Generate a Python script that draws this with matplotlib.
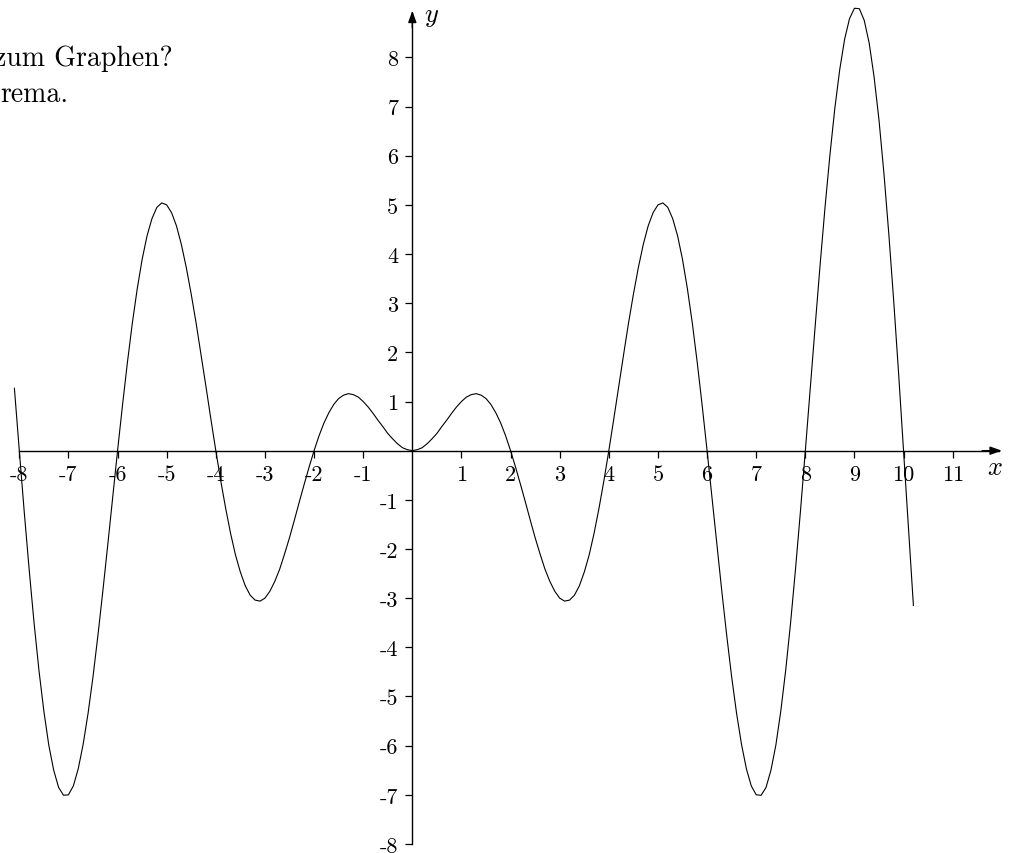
import numpy as np
import matplotlib
matplotlib.use("Agg")
import matplotlib.pyplot as plt

plt.rcParams['font.family'] = 'serif'
plt.rcParams['font.serif'] = ['cmr10']
plt.rcParams['mathtext.fontset'] = 'cm'
plt.rcParams['axes.unicode_minus'] = False
plt.rcParams['axes.formatter.use_mathtext'] = True

x_vals = np.round(np.linspace(-8.1, 10.2, 184), 1)
y_vals = [
    1.27, 0, -1.24, -2.41, -3.50, -4.47, -5.30, -5.99, -6.50, -6.85,
    -7.01, -7.00, -6.82, -6.47, -5.97, -5.34, -4.60, -3.76, -2.86, -1.92,
    -0.95, 0, 0.92, 1.79, 2.59, 3.29, 3.89, 4.37, 4.72, 4.95,
    5.04, 5.00, 4.84, 4.57, 4.19, 3.72, 3.18, 2.59, 1.95, 1.30,
    0.64, 0, -0.61, -1.17, -1.68, -2.12, -2.47, -2.75, -2.94, -3.04,
    -3.06, -3.00, -2.86, -2.66, -2.41, -2.10, -1.77, -1.41, -1.04, -0.68,
    -0.33, 0, 0.30, 0.56, 0.77, 0.94, 1.06, 1.13, 1.16, 1.14,
    1.09, 1.00, 0.89, 0.76, 0.62, 0.49, 0.35, 0.24, 0.14, 0.06,
    0.02,
    0,
    0.02, 0.06, 0.14, 0.24, 0.35, 0.49, 0.62, 0.76, 0.89, 1.00,
    1.09, 1.14, 1.16, 1.13, 1.06, 0.94, 0.77, 0.56, 0.30, 0,
    -0.33, -0.68, -1.04, -1.41, -1.77, -2.10, -2.41, -2.66, -2.86, -3.00,
    -3.06, -3.04, -2.94, -2.75, -2.47, -2.12, -1.68, -1.17, -0.61, 0,
    0.64, 1.30, 1.95, 2.59, 3.18, 3.72, 4.19, 4.57, 4.84, 5.00,
    5.04, 4.95, 4.72, 4.37, 3.89, 3.29, 2.59, 1.79, 0.92, 0,
    -0.95, -1.92, -2.86, -3.76, -4.60, -5.34, -5.97, -6.47, -6.82, -7.00,
    -7.01, -6.85, -6.50, -5.99, -5.30, -4.47, -3.50, -2.41, -1.24, 0,
    1.27, 2.53, 3.77, 4.94, 6.01, 6.96, 7.75, 8.37, 8.79, 9.00,
    8.99, 8.75, 8.29, 7.60, 6.72, 5.64, 4.40, 3.03, 1.55, 0,
    -1.58, -3.15,
]

x_ticks = [-8, -7, -6, -5, -4, -3, -2, -1, 1, 2, 3, 4, 5, 6, 7, 8, 9, 10, 11]
y_ticks = [-8, -7, -6, -5, -4, -3, -2, -1, 1, 2, 3, 4, 5, 6, 7, 8]
text_lines = ["zum Graphen?", "rema."]

fig = plt.figure(figsize=(10.18, 8.54), dpi=100)
ax = fig.add_axes([0, 0, 1, 1])
ax.set_xlim(-8.393, 12.329)
ax.set_ylim(-8.184, 9.188)
ax.patch.set_visible(False)

for s in ['top', 'right']:
    ax.spines[s].set_visible(False)
ax.spines['left'].set_position(('data', 0))
ax.spines['bottom'].set_position(('data', 0))
ax.spines['left'].set_bounds(-8, 8.9)
ax.spines['bottom'].set_bounds(-8, 11.95)
ax.spines['left'].set_linewidth(1.0)
ax.spines['bottom'].set_linewidth(1.0)

ax.set_xticks(x_ticks)
ax.set_xticklabels([str(t) for t in x_ticks])
ax.set_yticks(y_ticks)
ax.set_yticklabels([str(t) for t in y_ticks])
ax.tick_params(axis='x', direction='out', length=5, width=0.9, pad=5, labelsize=16)
ax.tick_params(axis='y', direction='out', length=5, width=0.9, pad=5, labelsize=16)

# arrow heads
ax.annotate('', xy=(12.0, 0), xytext=(11.6, 0),
            arrowprops=dict(arrowstyle='-|>,head_length=0.7,head_width=0.25',
                            color='black', lw=1.0, shrinkA=0, shrinkB=0))
ax.annotate('', xy=(0, 8.95), xytext=(0, 8.6),
            arrowprops=dict(arrowstyle='-|>,head_length=0.7,head_width=0.25',
                            color='black', lw=1.0, shrinkA=0, shrinkB=0))
ax.text(11.86, -0.33, r'$x$', fontsize=19, ha='center', va='center')
ax.text(0.4, 8.83, r'$y$', fontsize=19, ha='center', va='center')

ax.plot(x_vals, y_vals, color='black', lw=0.8)

fig.text(-6 / 1018, 1 - 66 / 854, text_lines[0], fontsize=20, ha='left', va='baseline')
fig.text(0 / 1018, 1 - 101.5 / 854, text_lines[1], fontsize=20, ha='left', va='baseline')

fig.savefig('out.png', dpi=100)
